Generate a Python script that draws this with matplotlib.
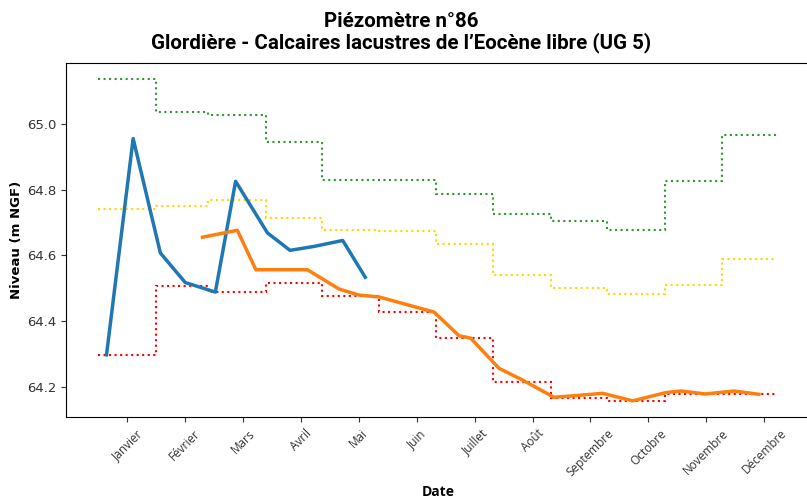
import matplotlib
matplotlib.use("Agg")
import matplotlib.pyplot as plt

# x positions are in "month" units (1 = Janvier, 12 = Décembre)
MONTHS = ["Janvier", "Février", "Mars", "Avril", "Mai", "Juin", "Juillet",
          "Août", "Septembre", "Octobre", "Novembre", "Décembre"]
MONTH_TICKS = list(range(1, 13))

# current year (blue)
blue_x = [0.64, 1.10, 1.57, 2.00, 2.52, 2.87, 3.42, 3.81, 4.23, 4.72, 5.11]
blue_y = [64.297, 64.955, 64.607, 64.517, 64.488, 64.825, 64.668,
          64.615, 64.627, 64.645, 64.533]

# previous year (orange)
orange_x = [2.30, 2.90, 3.22, 4.11, 4.66, 5.00, 5.35, 6.30, 6.73, 6.93,
            7.42, 7.83, 8.37, 8.75, 9.21, 9.73, 10.30, 10.56, 10.99,
            11.48, 11.91]
orange_y = [64.655, 64.676, 64.556, 64.556, 64.497, 64.479, 64.473,
            64.427, 64.355, 64.348, 64.256, 64.220, 64.168, 64.173,
            64.180, 64.157, 64.182, 64.187, 64.178, 64.187, 64.177]

# monthly reference levels (step lines)
step_edges = [0.50, 1.50, 2.40, 3.40, 4.37, 5.35, 6.33, 7.32, 8.32,
              9.29, 10.29, 11.27, 12.23]
green_levels = [65.135, 65.035, 65.026, 64.946, 64.828, 64.828, 64.787,
                64.726, 64.705, 64.676, 64.827, 64.965]
yellow_levels = [64.742, 64.751, 64.767, 64.714, 64.677, 64.673, 64.634,
                 64.541, 64.501, 64.482, 64.508, 64.588]
red_levels = [64.297, 64.505, 64.487, 64.517, 64.477, 64.427, 64.348,
              64.215, 64.166, 64.156, 64.177, 64.177]

W, H = 807, 501
fig = plt.figure(figsize=(W / 100, H / 100), dpi=100)
ax = fig.add_axes([66 / W, (H - 417.3) / H, (811 - 66) / W, (417.3 - 63.3) / H])

ax.stairs(green_levels, step_edges, baseline=None, color="#2a9a2a",
          linestyle=":", linewidth=1.5)
ax.stairs(yellow_levels, step_edges, baseline=None, color="gold",
          linestyle=":", linewidth=1.5)
ax.stairs(red_levels, step_edges, baseline=None, color="red",
          linestyle=":", linewidth=1.5)

ax.plot(blue_x, blue_y, color="#1f77b4", linewidth=2.5)
ax.plot(orange_x, orange_y, color="#ff7f0e", linewidth=2.5)

ax.set_xlim(-0.06, 12.81)
ax.set_ylim(64.107, 65.184)

ax.set_xticks(MONTH_TICKS)
ax.set_xticklabels(MONTHS, rotation=45, fontsize=8.5, family="Open Sans")
ax.set_yticks([64.2, 64.4, 64.6, 64.8, 65.0])
ax.set_yticklabels(["64.2", "64.4", "64.6", "64.8", "65.0"], fontsize=9.5)
ax.tick_params(colors="#333333")

ax.set_ylabel("Niveau (m NGF)", fontsize=9.5, fontweight="bold", labelpad=3)
ax.set_xlabel("Date", fontsize=10, fontweight="bold", family="Open Sans")

fig.text(0.497, 1 - 12 / H,
         "Piézomètre n°86\nGlordière - Calcaires lacustres de l’Eocène libre (UG 5)",
         fontsize=14.8, fontweight="bold", family="Roboto",
         ha="center", va="top", linespacing=1.08)

fig.savefig("out.png", dpi=100)
